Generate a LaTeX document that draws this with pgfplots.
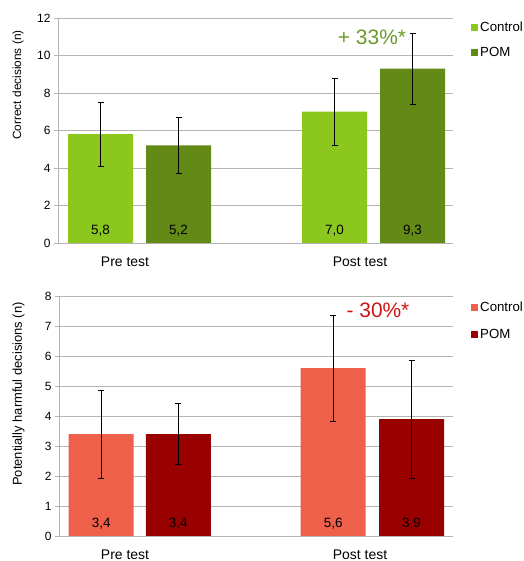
\documentclass[border=0pt]{standalone}
\usepackage{pgfplots}
\pgfplotsset{compat=1.18}
\usepackage{fontspec}
\setmainfont{Liberation Sans}
\definecolor{lgreen}{HTML}{8CC71E}
\definecolor{dgreen}{HTML}{638A16}
\definecolor{lred}{HTML}{EE604A}
\definecolor{dred}{HTML}{990000}
\definecolor{agreen}{HTML}{6A9A2A}
\definecolor{ared}{HTML}{CC1414}
\definecolor{gridgray}{HTML}{B4B4B4}
\pgfplotsset{
  mystyle/.style={
    scale only axis,
    xmin=58, xmax=453, ymin=0,
    separate axis lines,
    axis x line*=bottom, axis y line*=left,
    x axis line style={-, draw=gridgray, line width=0.8bp},
    y axis line style={-, draw=gridgray, line width=0.8bp},
    ymajorgrids, grid style={gridgray, line width=0.8bp},
    tick align=outside, major tick length=4bp,
    y tick style={gridgray, line width=0.8bp},
    x tick style={draw=none},
    xtick={125,360}, xticklabels={Pre test, Post test},
    xticklabel style={font=\fontsize{14}{16}\selectfont, yshift=-6bp},
    yticklabel style={font=\fontsize{12}{14}\selectfont},
    /pgf/number format/assume math mode=true,
    ybar, bar width=65, bar shift=0pt,
    legend cell align=left,
    legend style={draw=none, fill=none, font=\fontsize{13.3}{15}\selectfont,
      inner sep=0pt, anchor=north west},
    error bars/y dir=both, error bars/y explicit,
    error bars/error bar style={black, line width=0.7bp},
    error bars/error mark options={rotate=90, black, line width=0.7bp, mark size=3bp},
  },
}
\tikzset{vlab/.style={anchor=base, font=\fontsize{13.5}{15}\selectfont}}
\begin{document}
\begin{tikzpicture}
\useasboundingbox (0bp,0bp) rectangle (524bp,561bp);
\begin{axis}[mystyle,
  at={(58bp,318bp)}, anchor=south west, width=395bp, height=225bp,
  ymax=12, ytick={0,2,...,12},
  ylabel={Correct decisions (n)},
  ylabel style={font=\fontsize{11.9}{13}\selectfont, at={([xshift=-40bp]rel axis cs:0,0.702)}, anchor=center},
  legend style={at={([xshift=18bp,yshift=-2bp]rel axis cs:1,1)}, row sep=10bp},
  legend image code/.code={\fill[#1] (0bp,-3.5bp) rectangle (7bp,3.5bp);},
]
\addplot[fill=lgreen, draw=none] coordinates {(100.5,5.8) +- (0,1.7) (334.5,7.0) +- (0,1.8)};
\addplot[fill=dgreen, draw=none] coordinates {(178.5,5.2) +- (0,1.5) (412.5,9.3) +- (0,1.9)};
\legend{Control, POM}
\node[vlab] at (axis cs:100.5,0) [yshift=8bp] {5,8};
\node[vlab] at (axis cs:178.5,0) [yshift=8bp] {5,2};
\node[vlab] at (axis cs:334.5,0) [yshift=8bp] {7,0};
\node[vlab] at (axis cs:412.5,0) [yshift=8bp] {9,3};
\node[anchor=base, font=\fontsize{21}{24}\selectfont, text=agreen] at (axis cs:372,10.6) {+ 33\%*};
\end{axis}
\begin{axis}[mystyle,
  at={(59bp,25bp)}, anchor=south west, width=394bp, height=240bp,
  xmin=59,
  ymax=8, ytick={0,1,...,8},
  ylabel={Potentially harmful decisions (n)},
  ylabel style={font=\fontsize{13}{14}\selectfont, at={([xshift=-40.5bp]rel axis cs:0,0.592)}, anchor=center},
  legend style={at={([xshift=18bp,yshift=-4bp]rel axis cs:1,1)}, row sep=12bp},
  legend image code/.code={\fill[#1] (0bp,-3.5bp) rectangle (7bp,3.5bp);},
]
\addplot[fill=lred, draw=none] coordinates {(101.2,3.4) +- (0,1.47) (333.2,5.6) +- (0,1.77)};
\addplot[fill=dred, draw=none] coordinates {(178.3,3.4) +- (0,1.02) (411.5,3.9) +- (0,1.97)};
\legend{Control, POM}
\node[vlab] at (axis cs:101.2,0) [yshift=9bp] {3,4};
\node[vlab] at (axis cs:178.3,0) [yshift=9bp] {3,4};
\node[vlab] at (axis cs:333.2,0) [yshift=9bp] {5,6};
\node[vlab] at (axis cs:411.5,0) [yshift=9bp] {3,9};
\node[anchor=base, font=\fontsize{21}{24}\selectfont, text=ared] at (axis cs:378,7.28) {- 30\%*};
\end{axis}
\end{tikzpicture}
\end{document}
